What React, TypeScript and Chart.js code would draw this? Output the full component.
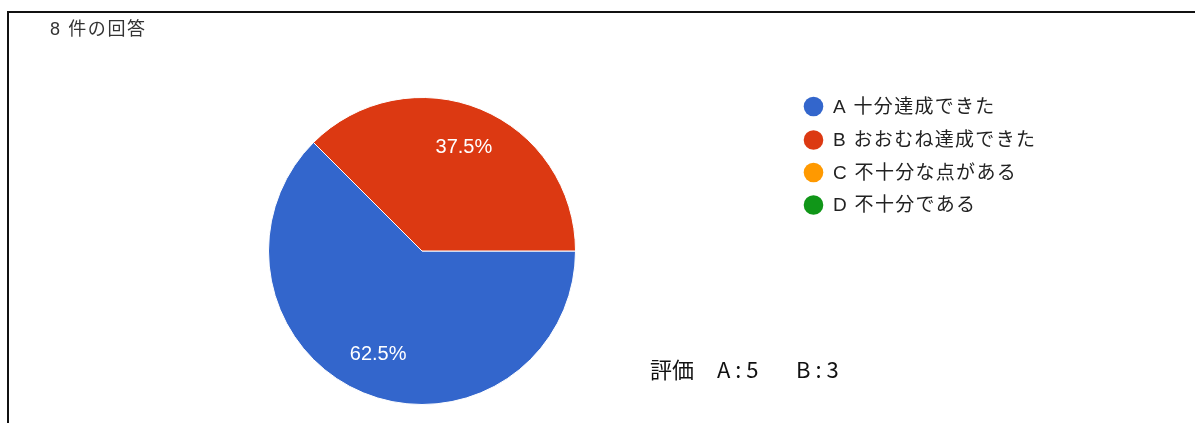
import React, { useEffect, useRef } from "react";
import { Chart, registerables } from "chart.js";
Chart.register(...registerables);

const titleText = "8 件の回答";
const categories = ["A 十分達成できた", "B おおむね達成できた", "C 不十分な点がある", "D 不十分である"];
const counts = [5, 3, 0, 0];
const colors = ["#3366cc", "#dc3912", "#ff9900", "#109618"];
const noteParts = ["評価", "A : 5", "B : 3"];

const LATIN = "'Liberation Sans', Arial, 'Noto Sans CJK JP', sans-serif";

const decorPlugin = {
  id: "decor",
  beforeDraw(chart: any) {
    const ctx = chart.ctx;
    ctx.save();
    ctx.fillStyle = "#ffffff";
    ctx.fillRect(0, 0, chart.width, chart.height);
    ctx.fillStyle = "#111111";
    ctx.fillRect(7, 11, chart.width - 7, 2);
    ctx.fillRect(7, 11, 2, chart.height - 11);
    ctx.restore();
  },
  afterDraw(chart: any) {
    const ctx = chart.ctx;
    ctx.save();
    // title
    ctx.fillStyle = "#333333";
    ctx.font = `18px ${LATIN}`;
    (ctx as any).letterSpacing = "1.6px";
    ctx.textBaseline = "middle";
    ctx.textAlign = "left";
    ctx.fillText(titleText, 50, 30);

    // legend
    const items = chart.data.labels as string[];
    const bg = chart.data.datasets[0].backgroundColor as string[];
    const rowY = [106.5, 140, 172.5, 205];
    items.forEach((lab, i) => {
      ctx.beginPath();
      ctx.fillStyle = bg[i];
      ctx.arc(813.5, rowY[i], 9.8, 0, Math.PI * 2);
      ctx.fill();
      ctx.fillStyle = "#222222";
      ctx.font = `19px ${LATIN}`;
      (ctx as any).letterSpacing = "1.3px";
      ctx.fillText(lab, 833, rowY[i] + 1);
    });
    (ctx as any).letterSpacing = "0px";

    // percentage labels
    const meta = chart.getDatasetMeta(0);
    const data = chart.data.datasets[0].data as number[];
    const total = data.reduce((a, b) => a + b, 0);
    ctx.fillStyle = "#ffffff";
    ctx.font = `20px ${LATIN}`;
    ctx.textAlign = "center";
    meta.data.forEach((arc: any, i: number) => {
      if (!data[i]) return;
      const p = arc.getProps(["x", "y", "startAngle", "endAngle", "outerRadius"], true);
      const mid = (p.startAngle + p.endAngle) / 2;
      const r = p.outerRadius * 0.73;
      const pct = ((data[i] / total) * 100).toFixed(1) + "%";
      ctx.fillText(pct, p.x + Math.cos(mid) * r - 1, p.y + Math.sin(mid) * r);
    });

    // note
    ctx.fillStyle = "#111111";
    ctx.font = `22px 'Noto Sans CJK JP', sans-serif`;
    ctx.textAlign = "left";
    const noteX = [650, 717, 796];
    noteParts.forEach((t, i) => ctx.fillText(t, noteX[i], 370));
    ctx.restore();
  },
};

export default function App() {
  const ref = useRef<HTMLCanvasElement | null>(null);
  useEffect(() => {
    if (!ref.current) return;
    const chart = new Chart(ref.current, {
      type: "pie",
      data: {
        labels: categories,
        datasets: [
          {
            data: counts,
            backgroundColor: colors,
            borderColor: "#ffffff",
            borderWidth: 1,
          },
        ],
      },
      options: {
        animation: false,
        responsive: true,
        maintainAspectRatio: false,
        rotation: 90,
        layout: { padding: { left: 268, right: 619, top: 97, bottom: 18 } },
        plugins: {
          legend: { display: false },
          tooltip: { enabled: false },
          title: { display: false },
        },
      },
      plugins: [decorPlugin],
    });
    return () => chart.destroy();
  }, []);
  return (
    <div style={{ position: "fixed", left: 0, top: 0, width: 1195, height: 423, background: "#fff" }}>
      <canvas ref={ref} />
    </div>
  );
}
